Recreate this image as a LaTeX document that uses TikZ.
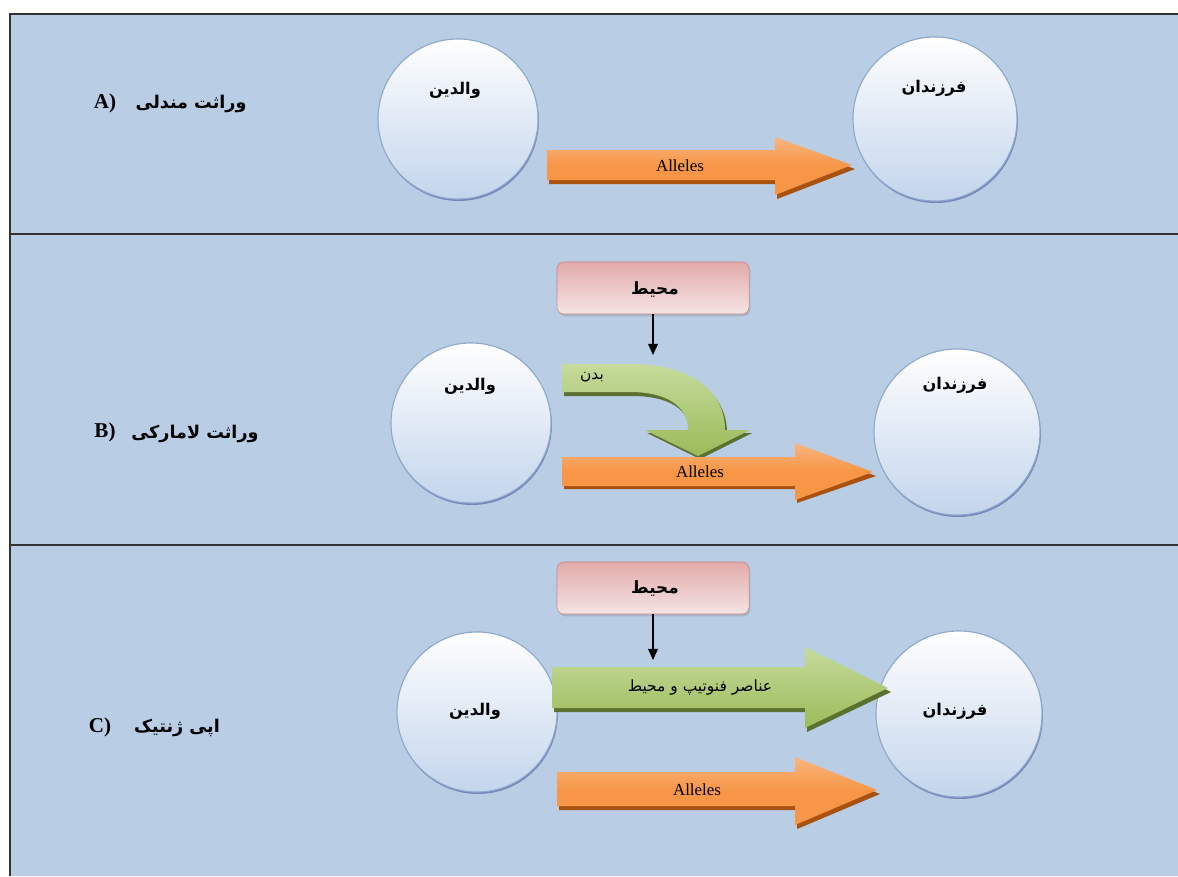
\documentclass[tikz,border=0pt]{standalone}
\usepackage{fontspec}
\setmainfont{Liberation Serif}
\newfontfamily\farsi[Script=Arabic]{DejaVu Sans}
\TeXXeTstate=1
\usetikzlibrary{shadows,arrows.meta}

\definecolor{panelbg}{HTML}{B9CDE5}
\definecolor{ballbot}{HTML}{C3D5EC}
\definecolor{balledge}{HTML}{8DA9CC}
\definecolor{orangemid}{HTML}{F79646}
\definecolor{orangetop}{HTML}{FAB57F}
\definecolor{orangedark}{HTML}{A9520F}
\definecolor{greenmid}{HTML}{9BBB59}
\definecolor{greentop}{HTML}{C6DB9C}
\definecolor{greendark}{HTML}{5B7130}
\definecolor{pinktop}{HTML}{E2AAAA}
\definecolor{pinkbot}{HTML}{F5E4E4}
\definecolor{pinkedge}{HTML}{C98585}

\tikzset{
  frame/.style={line width=1.6pt, draw=black!80},
  ball/.style={circle, minimum size=4cm, inner sep=0pt, top color=white,
    bottom color=ballbot, draw=balledge, line width=0.8pt,
    drop shadow={shadow xshift=0.6pt, shadow yshift=-1.4pt, opacity=0.35, fill=blue!40!black}},
  envbox/.style={rounded corners=5pt, minimum width=4.8cm, minimum height=1.3cm,
    top color=pinktop, bottom color=pinkbot, draw=pinkedge, line width=0.4pt,
    drop shadow={shadow xshift=1pt, shadow yshift=-1.6pt, opacity=0.3}},
  oarrow/.style={top color=orangetop, bottom color=orangemid, middle color=orangemid},
  oshadow/.style={fill=orangedark},
  garrow/.style={top color=greentop, bottom color=greenmid},
  gshadow/.style={fill=greendark},
  fa/.style={font=\farsi\bfseries\fontsize{11.5}{14}\selectfont},
  falabel/.style={font=\farsi\bfseries\fontsize{12.5}{15}\selectfont},
  tag/.style={font=\bfseries\fontsize{15}{17}\selectfont},
  allele/.style={font=\fontsize{12}{14}\selectfont},
  down/.style={-{Triangle[width=7pt,length=8pt]}, line width=0.8pt}
}

\begin{document}
\begin{tikzpicture}[x=0.025cm, y=-0.025cm]
  \useasboundingbox (0,0) rectangle (1178,876);
  % panels
  \fill[panelbg] (10,14) rectangle (1178,876);
  \draw[frame] (10,876) -- (10,14) -- (1178,14);
  \draw[frame] (10,234) -- (1178,234);
  \draw[frame] (10,545) -- (1178,545);

  % A) mendelian
  \node[tag] (tagA) at (105,103) {A)};
  \node[falabel] (nameA) at (191,104) {\beginR وراثت مندلی\endR};
  \node[ball] (parA) at (458,119) {};
  \node[ball, minimum size=4.1cm] (childA) at (935,119) {};
  \node[fa] (parAtxt) at (455,90) {\beginR والدین\endR};
  \node[fa] (childAtxt) at (934,88) {\beginR فرزندان\endR};
  \fill[oshadow] (549,154) -- (777,154) -- (777,141) -- (855,169) -- (777,199) -- (777,184) -- (549,184) -- cycle;
  \shade[oarrow] (547,150) -- (775,150) -- (775,137) -- (852,165) -- (775,195) -- (775,180) -- (547,180) -- cycle;
  \node[allele] (alA) at (680,166) {Alleles};

  % B) lamarckian
  \node[tag] (tagB) at (105,432) {B)};
  \node[falabel] (nameB) at (195,434) {\beginR وراثت لامارکی\endR};
  \node[ball] (parB) at (471,423) {};
  \node[ball, minimum size=4.15cm] (childB) at (957,432) {};
  \node[fa] (parBtxt) at (470,386) {\beginR والدین\endR};
  \node[fa] (childBtxt) at (955,385) {\beginR فرزندان\endR};
  \node[envbox] (envB) at (653,288) {};
  \node[fa, font=\farsi\bfseries\fontsize{12}{14}\selectfont] (envBtxt) at (655,289) {\beginR محیط\endR};
  \coordinate (bodyBtop) at (653,355);
  \draw[down] (envB.south) -- (bodyBtop);
  \fill[gshadow] (564,368) -- (632,368) .. controls (692,368) and (727,393) .. (727,433) -- (752,433)
    -- (700,459) -- (647,433) -- (690,433) .. controls (690,408) and (667,396) .. (632,396) -- (564,396) -- cycle;
  \shade[garrow] (562,364) -- (630,364) .. controls (690,364) and (725,390) .. (725,430) -- (750,430)
    -- (698,456) -- (645,430) -- (688,430) .. controls (688,405) and (665,392) .. (630,392) -- (562,392) -- cycle;
  \node[fa, font=\farsi\fontsize{11}{13}\selectfont] (bodyB) at (592,377) {\beginR بدن\endR};
  \fill[oshadow] (564,461) -- (797,461) -- (797,447) -- (876,476) -- (797,503) -- (797,489) -- (564,489) -- cycle;
  \shade[oarrow] (562,457) -- (795,457) -- (795,443) -- (873,472) -- (795,500) -- (795,486) -- (562,486) -- cycle;
  \node[allele] (alB) at (700,472) {Alleles};

  % C) epigenetic
  \node[tag] (tagC) at (100,727) {C)};
  \node[falabel] (nameC) at (177,728) {\beginR اپی ژنتیک\endR};
  \node[ball] (parC) at (477,712) {};
  \node[ball, minimum size=4.15cm] (childC) at (959,714) {};
  \node[fa] (parCtxt) at (475,711) {\beginR والدین\endR};
  \node[fa] (childCtxt) at (955,711) {\beginR فرزندان\endR};
  \node[envbox] (envC) at (653,588) {};
  \node[fa, font=\farsi\bfseries\fontsize{12}{14}\selectfont] (envCtxt) at (655,588) {\beginR محیط\endR};
  \coordinate (phenoCtop) at (653,660);
  \draw[down] (envC.south) -- (phenoCtop);
  \fill[gshadow] (554,671) -- (807,671) -- (807,651) -- (891,692) -- (807,732) -- (807,712) -- (554,712) -- cycle;
  \shade[garrow] (552,667) -- (805,667) -- (805,647) -- (888,688) -- (805,728) -- (805,708) -- (552,708) -- cycle;
  \node[fa, font=\farsi\fontsize{11}{13}\selectfont] (phenoC) at (700,688) {\beginR عناصر فنوتیپ و محیط\endR};
  \fill[oshadow] (559,776) -- (797,776) -- (797,761) -- (880,794) -- (797,829) -- (797,810) -- (559,810) -- cycle;
  \shade[oarrow] (557,772) -- (795,772) -- (795,757) -- (877,790) -- (795,825) -- (795,806) -- (557,806) -- cycle;
  \node[allele] (alC) at (697,790) {Alleles};
\end{tikzpicture}
\end{document}
